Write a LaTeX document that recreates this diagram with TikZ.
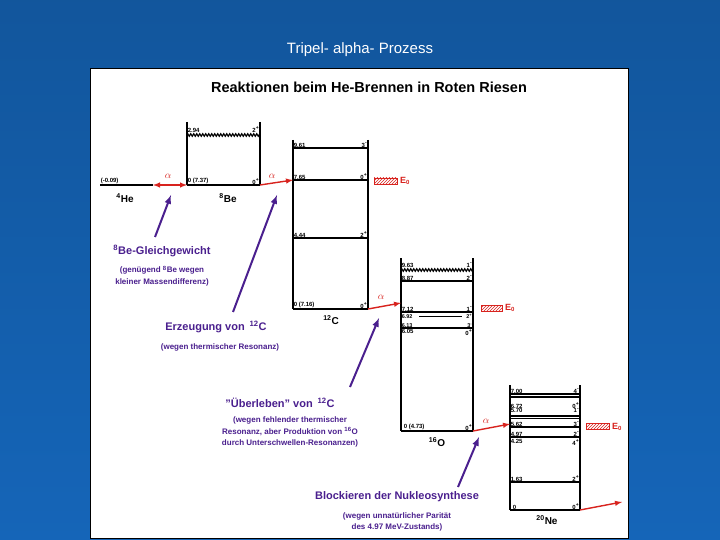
\documentclass[tikz,border=0pt]{standalone}
\usepackage{fontspec}
\setmainfont{Liberation Sans}
\usetikzlibrary{decorations.pathmorphing,patterns}
\definecolor{slideblue}{HTML}{1565B8}
\definecolor{notecol}{HTML}{4A1F8E}
\definecolor{alphared}{HTML}{D8231E}
\newcommand{\sups}[1]{\textsuperscript{#1}}
\newcommand{\lvl}[5]{% y, x1, x2, energy, spin
  \draw[level] (#2,#1) -- (#3,#1);
  \node[lvltext, anchor=south west] at (#2,#1) {#4};
  \node[lvltext, anchor=south east] at (#3,#1) {#5};}
\begin{document}
\begin{tikzpicture}[x=1pt, y=-1pt, font=\sffamily]
    % Define styles
    \tikzset{
        level/.style={line width=1.2pt},
        wavy/.style={line width=1.2pt, decorate, decoration={zigzag, amplitude=1.2pt, segment length=3pt}},
        lvltext/.style={font=\fontsize{6}{6}\selectfont\bfseries, inner sep=0.6pt},
        react/.style={->, >=latex, alphared, line width=1.4pt},
        notearrow/.style={->, >=latex, notecol, line width=2pt},
        alphalbl/.style={alphared, font=\normalsize},
        nuc/.style={font=\fontsize{10}{12}\selectfont\bfseries},
        eband/.style={pattern=north east lines, pattern color=alphared, draw=alphared, line width=0.4pt},
        notetext/.style={notecol, font=\fontsize{8}{11.5}\selectfont\bfseries, align=center},
        notehead/.style={notecol, font=\fontsize{11}{13}\selectfont\bfseries},
    }

    % Background and panel
    \shade[top color=slideblue!85!black, bottom color=slideblue] (0,0) rectangle (720,540);
    \useasboundingbox (0,0) rectangle (720,540);
    \node[white, font=\fontsize{15}{18}\selectfont] at (360,50) {Tripel- alpha- Prozess};
    \draw[fill=white] (90,68) rectangle (628,538);
    \node[font=\fontsize{14.5}{17}\selectfont\bfseries] at (369,87) {Reaktionen beim He-Brennen in Roten Riesen};

    % 4He and 8Be
    \lvl{185}{100}{153}{(-0.09)}{}
    \node[nuc] (he) at (125,198) {\sups{4}He};
    \draw[level] (187,122) -- (187,185) (260,122) -- (260,185);
    \draw[wavy] (187,135) -- (260,135);
    \node[lvltext, anchor=south west] at (187,133) {2.94};
    \node[lvltext, anchor=south east] at (260,133) {2\sups{+}};
    \lvl{185}{187}{260}{0 (7.37)}{0\sups{+}}
    \node[nuc] (be) at (228,198) {\sups{8}Be};

    % 12C
    \draw[level] (293,140) -- (293,309) (368,140) -- (368,309);
    \lvl{148}{293}{368}{9.61}{3\sups{-}}
    \lvl{180}{293}{368}{7.65}{0\sups{+}}
    \lvl{238}{293}{368}{4.44}{2\sups{+}}
    \draw[line width=2pt] (293,309) -- (368,309);
    \node[lvltext, anchor=south west] at (293,309) {0 (7.16)};
    \node[lvltext, anchor=south east] at (368,309) {0\sups{+}};
    \node[nuc] (c) at (331,320) {\sups{12}C};
    \draw[eband] (374,178) rectangle (397,184);
    \node[alphared, font=\small\bfseries] (e1) at (405,181) {E\textsubscript{0}};

    % 16O
    \draw[level] (401,258) -- (401,431) (473,258) -- (473,431);
    \draw[wavy] (401,270) -- (473,270);
    \node[lvltext, anchor=south west] at (401,268) {9.63};
    \node[lvltext, anchor=south east] at (473,268) {1\sups{-}};
    \lvl{281}{401}{473}{8.87}{2\sups{-}}
    \draw[level] (401,312) -- (473,312);
    \node[lvltext, anchor=south west] at (401,312) {7.12};
    \node[lvltext, anchor=south east] at (473,312) {1\sups{-}};
    \draw[line width=0.8pt] (419,316) -- (462,316);
    \node[lvltext, font=\fontsize{5.5}{5.5}\selectfont\bfseries, anchor=west] at (401,316.5) {6.92};
    \node[lvltext, font=\fontsize{5.5}{5.5}\selectfont\bfseries, anchor=east] at (473,316.5) {2\sups{+}};
    \draw[level] (401,328) -- (473,328);
    \node[lvltext, font=\fontsize{5.5}{5.5}\selectfont\bfseries, anchor=south west] at (401,328) {6.13};
    \node[lvltext, font=\fontsize{5.5}{5.5}\selectfont\bfseries, anchor=south east] at (473,328) {3\sups{-}};
    \node[lvltext, anchor=north west] at (401,329) {6.05};
    \node[lvltext, anchor=north east] at (473,329) {0\sups{+}};
    \draw[line width=2pt] (401,431) -- (473,431);
    \node[lvltext, anchor=south west] at (403,431) {0 (4.73)};
    \node[lvltext, anchor=south east] at (473,431) {0\sups{+}};
    \node[nuc] (o) at (437,442) {\sups{16}O};
    \draw[eband] (481,305) rectangle (502,311);
    \node[alphared, font=\small\bfseries] (e2) at (510,308) {E\textsubscript{0}};

    % 20Ne
    \draw[level] (510,385) -- (510,510) (580,385) -- (580,510);
    \lvl{394}{510}{580}{7.00}{4\sups{-}}
    \draw[level] (510,397) -- (580,397);
    \node[lvltext, anchor=south west] at (510,409) {6.72};
    \node[lvltext, anchor=south east] at (580,409) {0\sups{+}};
    \node[lvltext, anchor=north west] at (510,408) {5.70};
    \node[lvltext, anchor=north east] at (580,408) {1\sups{-}};
    \draw[level] (510,416) -- (580,416);
    \draw[level] (510,418.5) -- (580,418.5);
    \lvl{427}{510}{580}{5.62}{3\sups{-}}
    \lvl{437}{510}{580}{4.97}{2\sups{-}}
    \node[lvltext, anchor=north west] at (510,439) {4.25};
    \node[lvltext, anchor=north east] at (580,439) {4\sups{+}};
    \lvl{482}{510}{580}{1.63}{2\sups{+}}
    \draw[line width=2pt] (510,510) -- (580,510);
    \node[lvltext, anchor=south west] at (512,510) {0};
    \node[lvltext, anchor=south east] at (580,510) {0\sups{+}};
    \node[nuc] (ne) at (547,520) {\sups{20}Ne};
    \draw[eband] (586,423) rectangle (609,429);
    \node[alphared, font=\small\bfseries] (e3) at (617,427) {E\textsubscript{0}};

    % Alpha captures
    \coordinate (heR) at (153,185);
    \coordinate (beL) at (187,185);
    \coordinate (beR) at (260,185);
    \coordinate (cIn) at (293,180);
    \coordinate (cR) at (368,309);
    \coordinate (oIn) at (401,303);
    \coordinate (oR) at (473,431);
    \coordinate (neIn) at (510,424);
    \coordinate (neR) at (580,510);
    \coordinate (neOut) at (622,502);
    \draw[react, <->] (heR) -- (beL);
    \node[alphalbl] at (168,176) {$\alpha$};
    \draw[react] (beR) -- (cIn);
    \node[alphalbl] at (272,176) {$\alpha$};
    \draw[react] (cR) -- (oIn);
    \node[alphalbl] at (381,297) {$\alpha$};
    \draw[react] (oR) -- (neIn);
    \node[alphalbl] at (486,421) {$\alpha$};
    \draw[react] (neR) -- (neOut);

    % Notes
    \node[notehead] (n1) at (162,251) {\sups{8}Be-Gleichgewicht};
    \node[notetext] at (162,276) {(genügend \sups{8}Be wegen\\kleiner Massendifferenz)};
    \node[notehead] (n2) at (216,327) {Erzeugung von\, \sups{12}C};
    \node[notetext] at (220,347) {(wegen thermischer Resonanz)};
    \node[notehead] (n3) at (280,403) {''Überleben'' von\, \sups{12}C};
    \node[notetext] at (290,432) {(wegen fehlender thermischer\\Resonanz, aber Produktion von \sups{16}O\\durch Unterschwellen-Resonanzen)};
    \node[notehead] (n4) at (397,497) {Blockieren der Nukleosynthese};
    \node[notetext] at (397,522) {(wegen unnatürlicher Parität\\des 4.97 MeV-Zustands)};

    % Arrows
    \coordinate (t1) at (155,237);
    \coordinate (t2) at (233,312);
    \coordinate (t3) at (350,387);
    \coordinate (t4) at (458,487);
    \draw[notearrow] (t1) -- (171,195);
    \draw[notearrow] (t2) -- (277,195);
    \draw[notearrow] (t3) -- (379,318);
    \draw[notearrow] (t4) -- (479,437);
\end{tikzpicture}
\end{document}
